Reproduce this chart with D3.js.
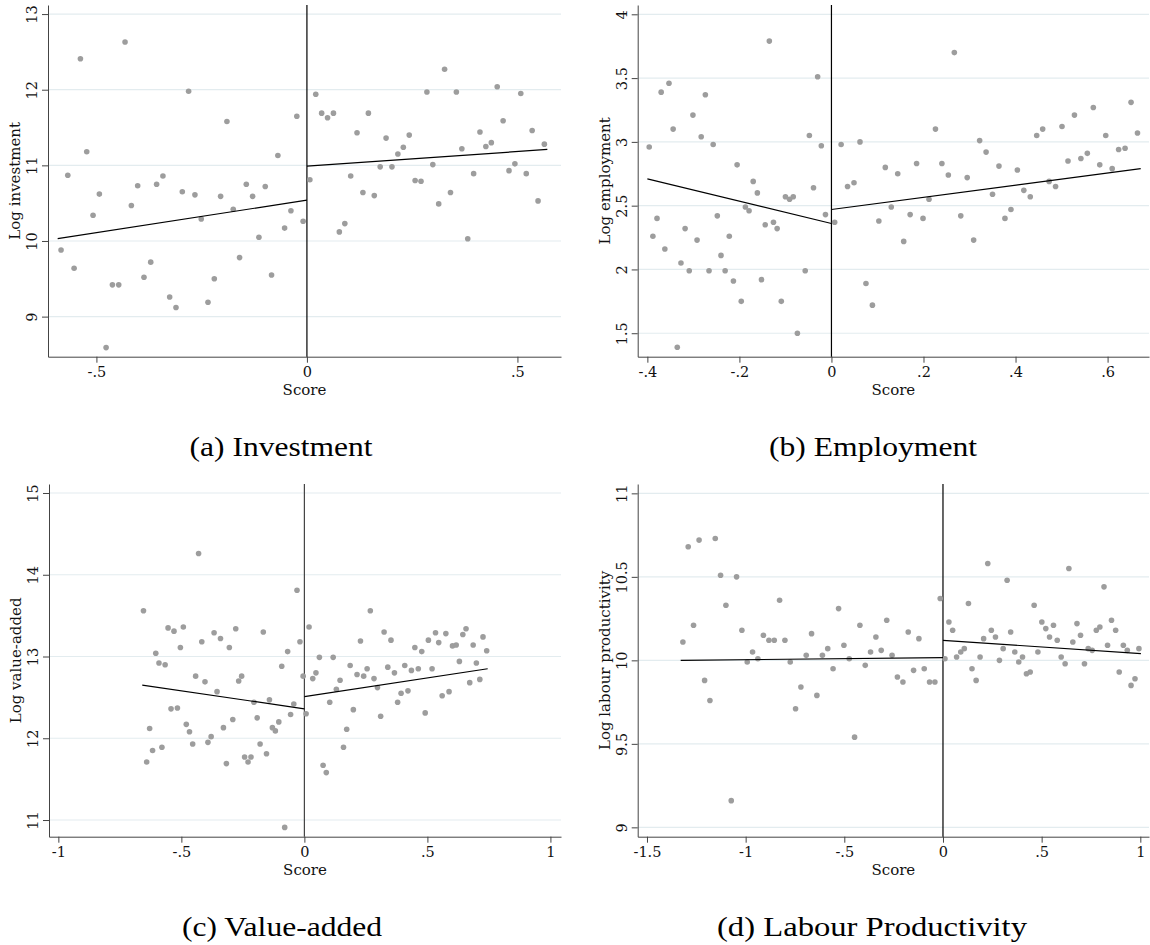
<!DOCTYPE html>
<html><head><meta charset="utf-8">
<script src="https://cdn.jsdelivr.net/npm/d3@7"></script>
<style>body{margin:0;background:#fff}svg{display:block}</style>
</head><body>
<svg id="chart" width="1150" height="945"></svg>
<script>
// ---------- Panel (a) Investment ----------
const invXLeft = [-0.584,-0.568,-0.553,-0.538,-0.523,-0.508,-0.493,-0.477,-0.462,-0.447,-0.432,-0.417,-0.402,-0.387,-0.371,-0.357,-0.342,-0.326,-0.311,-0.296,-0.281,-0.266,-0.251,-0.235,-0.220,-0.205,-0.190,-0.175,-0.160,-0.144,-0.129,-0.114,-0.099,-0.084,-0.069,-0.053,-0.038,-0.024,-0.009];
const invYLeft = [9.88,10.87,9.64,12.41,11.18,10.34,10.62,8.59,9.42,9.42,12.63,10.47,10.73,9.52,9.72,10.75,10.86,9.26,9.12,10.65,11.98,10.61,10.29,9.19,9.50,10.59,11.58,10.42,9.78,10.75,10.59,10.05,10.72,9.55,11.13,10.17,10.40,11.65,10.26];
const invXRight = [0.007,0.021,0.035,0.049,0.063,0.077,0.090,0.104,0.119,0.133,0.146,0.160,0.174,0.188,0.202,0.216,0.229,0.243,0.257,0.271,0.285,0.299,0.313,0.327,0.341,0.355,0.368,0.382,0.396,0.411,0.425,0.438,0.452,0.466,0.480,0.494,0.508,0.521,0.535,0.549,0.564];
const invYRight = [10.81,11.94,11.69,11.63,11.69,10.12,10.23,10.86,11.43,10.64,11.69,10.60,10.98,11.36,10.98,11.15,11.24,11.40,10.80,10.79,11.97,11.01,10.49,12.27,10.64,11.97,11.22,10.03,10.89,11.44,11.25,11.30,12.04,11.59,10.93,11.02,11.95,10.89,11.46,10.53,11.28];
const invFitLeft = [[-0.592,10.03],[0,10.54]];
const invFitRight = [[0,10.99],[0.571,11.21]];
const invXTicks = [-0.5,0,0.5];
const invYTicks = [9,10,11,12,13];
const invXDomain = [-0.615,0.6035];
const invYDomain = [8.47,13.12];

// ---------- Panel (b) Employment ----------
const empXLeft = [-0.396,-0.388,-0.379,-0.370,-0.362,-0.353,-0.344,-0.335,-0.327,-0.318,-0.309,-0.301,-0.292,-0.283,-0.274,-0.266,-0.257,-0.248,-0.240,-0.231,-0.222,-0.213,-0.205,-0.196,-0.187,-0.179,-0.170,-0.161,-0.152,-0.144,-0.135,-0.126,-0.118,-0.109,-0.100,-0.091,-0.083,-0.074,-0.057,-0.048,-0.039,-0.030,-0.022,-0.013];
const empYLeft = [2.96,2.26,2.40,3.39,2.16,3.46,3.10,1.39,2.05,2.32,1.99,3.21,2.23,3.04,3.37,1.99,2.98,2.42,2.11,1.99,2.26,1.91,2.82,1.75,2.49,2.46,2.69,2.60,1.92,2.35,3.79,2.37,2.32,1.75,2.57,2.55,2.57,1.50,1.99,3.05,2.64,3.51,2.97,2.43];
const empXRight = [0.007,0.021,0.035,0.049,0.062,0.075,0.089,0.103,0.117,0.130,0.144,0.157,0.171,0.185,0.199,0.212,0.226,0.240,0.254,0.267,0.281,0.295,0.309,0.322,0.336,0.350,0.364,0.377,0.390,0.404,0.418,0.432,0.446,0.459,0.473,0.487,0.501,0.514,0.528,0.542,0.556,0.569,0.583,0.596,0.610,0.624,0.638,0.651,0.665];
const empYRight = [2.37,2.98,2.65,2.68,3.00,1.89,1.72,2.38,2.80,2.49,2.75,2.22,2.43,2.83,2.40,2.55,3.10,2.83,2.74,3.70,2.42,2.72,2.23,3.01,2.92,2.59,2.81,2.40,2.47,2.78,2.62,2.57,3.05,3.10,2.69,2.65,3.12,2.85,3.21,2.87,2.91,3.27,2.82,3.05,2.79,2.94,2.95,3.31,3.07];
const empFitLeft = [[-0.4,2.71],[0,2.36]];
const empFitRight = [[0,2.47],[0.672,2.79]];
const empXTicks = [-0.4,-0.2,0,0.2,0.4,0.6];
const empYTicks = [1.5,2,2.5,3,3.5,4];
const empXDomain = [-0.421,0.69];
const empYDomain = [1.316,4.073];

// ---------- Panel (c) Value-added ----------
const vaXLeft = [-0.654,-0.641,-0.629,-0.617,-0.604,-0.591,-0.579,-0.566,-0.554,-0.542,-0.530,-0.516,-0.504,-0.492,-0.480,-0.467,-0.454,-0.442,-0.430,-0.417,-0.404,-0.392,-0.379,-0.367,-0.355,-0.341,-0.329,-0.317,-0.305,-0.291,-0.279,-0.267,-0.255,-0.243,-0.229,-0.217,-0.205,-0.192,-0.180,-0.167,-0.154,-0.142,-0.130,-0.118,-0.104,-0.092,-0.080,-0.068,-0.056,-0.043,-0.030,-0.018,-0.005];
const vaYLeft = [13.56,11.71,12.12,11.85,13.04,12.92,11.89,12.90,13.35,12.36,13.31,12.37,13.11,13.36,12.17,12.08,11.93,12.76,14.26,13.18,12.69,11.95,12.02,13.29,12.57,13.22,12.13,11.69,13.11,12.23,13.34,12.70,12.76,11.77,11.71,11.77,12.44,12.25,11.93,13.30,11.81,12.47,12.13,12.09,12.20,12.88,10.91,13.06,12.29,12.42,13.81,13.18,12.76];
const vaXRight = [0.007,0.019,0.034,0.047,0.061,0.076,0.089,0.103,0.117,0.130,0.145,0.159,0.172,0.186,0.199,0.214,0.228,0.241,0.255,0.268,0.283,0.297,0.310,0.324,0.339,0.352,0.366,0.379,0.393,0.408,0.421,0.435,0.449,0.463,0.477,0.491,0.504,0.519,0.533,0.546,0.560,0.575,0.588,0.602,0.617,0.630,0.644,0.657,0.672,0.686,0.699,0.713,0.726,0.741];
const vaYRight = [12.30,13.36,12.73,12.80,12.99,11.67,11.58,12.44,12.99,12.60,12.71,11.89,12.11,12.89,12.35,12.78,13.19,12.76,12.85,13.56,12.73,12.62,12.27,13.30,12.87,13.20,12.80,12.44,12.55,12.89,12.58,12.83,13.11,12.85,13.06,12.31,13.20,12.85,13.29,13.17,12.52,13.28,12.57,13.13,13.14,12.94,13.27,13.34,12.68,13.14,12.92,12.72,13.24,13.07];
const vaFitLeft = [[-0.659,12.65],[0,12.36]];
const vaFitRight = [[0,12.51],[0.745,12.85]];
const vaXTicks = [-1,-0.5,0,0.5,1];
const vaYTicks = [11,12,13,14,15];
const vaXDomain = [-1.038,1.043];
const vaYDomain = [10.796,15.11];

// ---------- Panel (d) Labour Productivity ----------
const lpXLeft = [-1.318,-1.291,-1.264,-1.236,-1.208,-1.181,-1.154,-1.127,-1.100,-1.073,-1.046,-1.019,-0.992,-0.965,-0.938,-0.910,-0.882,-0.855,-0.828,-0.801,-0.774,-0.747,-0.720,-0.693,-0.666,-0.639,-0.611,-0.584,-0.557,-0.529,-0.502,-0.475,-0.448,-0.421,-0.394,-0.367,-0.340,-0.313,-0.285,-0.258,-0.231,-0.203,-0.176,-0.149,-0.122,-0.095,-0.068,-0.041,-0.014];
const lpYLeft = [10.11,10.68,10.21,10.72,9.88,9.76,10.73,10.51,10.33,9.16,10.50,10.18,9.99,10.05,10.01,10.15,10.12,10.12,10.36,10.12,9.99,9.71,9.84,10.03,10.16,9.79,10.03,10.07,9.95,10.31,10.09,10.01,9.54,10.21,9.97,10.05,10.14,10.06,10.24,10.03,9.90,9.87,10.17,9.94,10.13,9.95,9.87,9.87,10.37];
const lpXRight = [0.010,0.030,0.049,0.069,0.090,0.108,0.129,0.147,0.168,0.188,0.206,0.227,0.245,0.266,0.286,0.305,0.325,0.343,0.364,0.384,0.403,0.423,0.442,0.462,0.481,0.501,0.521,0.540,0.560,0.579,0.599,0.619,0.638,0.658,0.679,0.697,0.717,0.736,0.756,0.777,0.795,0.816,0.834,0.854,0.875,0.893,0.914,0.934,0.953,0.973,0.993];
const lpYRight = [10.01,10.23,10.18,10.02,10.05,10.07,10.34,9.95,9.88,10.02,10.13,10.58,10.18,10.14,10.00,10.07,10.48,10.17,10.05,9.99,10.02,9.92,9.93,10.33,10.05,10.23,10.19,10.14,10.21,10.12,10.02,9.98,10.55,10.11,10.22,10.15,9.98,10.07,10.06,10.18,10.20,10.44,10.09,10.24,10.18,9.93,10.09,10.06,9.85,9.89,10.07];
const lpFitLeft = [[-1.329,10.00],[0,10.016]];
const lpFitRight = [[0,10.12],[1.003,10.04]];
const lpXTicks = [-1.5,-1,-0.5,0,0.5,1];
const lpYTicks = [9,9.5,10,10.5,11];
const lpXDomain = [-1.547,1.044];
const lpYDomain = [8.944,11.056];

// ---------- Texts ----------
const yTitles = ["Log investment","Log employment","Log value-added","Log labour productivity"];
const xTitle = "Score";
const captions = ["(a) Investment","(b) Employment","(c) Value-added","(d) Labour Productivity"];

const panels = [
  {xl:invXLeft,yl:invYLeft,xr:invXRight,yr:invYRight,fl:invFitLeft,fr:invFitRight,xt:invXTicks,yt:invYTicks,xd:invXDomain,yd:invYDomain},
  {xl:empXLeft,yl:empYLeft,xr:empXRight,yr:empYRight,fl:empFitLeft,fr:empFitRight,xt:empXTicks,yt:empYTicks,xd:empXDomain,yd:empYDomain},
  {xl:vaXLeft,yl:vaYLeft,xr:vaXRight,yr:vaYRight,fl:vaFitLeft,fr:vaFitRight,xt:vaXTicks,yt:vaYTicks,xd:vaXDomain,yd:vaYDomain},
  {xl:lpXLeft,yl:lpYLeft,xr:lpXRight,yr:lpYRight,fl:lpFitLeft,fr:lpFitRight,xt:lpXTicks,yt:lpYTicks,xd:lpXDomain,yd:lpYDomain}
];

// layout (pixels)
const layouts = [
  {left:48,   right:561,  top:5,   bottom:356.7, capX:281, capY:456, capW:183, zero:"#000"},
  {left:637.7,right:1149, top:5,   bottom:356.7, capX:873, capY:456, capW:208, zero:"#000"},
  {left:49,   right:561,  top:484, bottom:836.7, capX:282, capY:936, capW:200, zero:"#444"},
  {left:637.7,right:1149, top:484, bottom:836.7, capX:872, capY:936, capW:310, zero:"#000"}
];

const svg = d3.select("#chart");
const tickFont = "DejaVu Serif, serif";
const fmt = v => String(+v.toFixed(2)).replace(/^(-?)0\./, "$1.");

panels.forEach((p, i) => {
  const L = layouts[i];
  const x = d3.scaleLinear().domain(p.xd).range([L.left, L.right]);
  const y = d3.scaleLinear().domain(p.yd).range([L.bottom, L.top]);
  const g = svg.append("g");

  // gridlines
  g.append("g").selectAll("line").data(p.yt).join("line")
    .attr("x1", L.left).attr("x2", L.right)
    .attr("y1", d => y(d)).attr("y2", d => y(d))
    .attr("stroke", "#e3ecef").attr("stroke-width", 1.2);

  // x axis
  const gx = g.append("g").attr("transform", `translate(0,${L.bottom})`)
    .call(d3.axisBottom(x).tickValues(p.xt).tickFormat(fmt).tickSize(6).tickSizeOuter(0).tickPadding(4));
  gx.select(".domain").attr("stroke", "#444");
  gx.selectAll(".tick line").attr("stroke", "#444");
  gx.selectAll("text").attr("font-family", tickFont).attr("font-size", 14.5).attr("fill", "#111");

  // y axis
  const gy = g.append("g").attr("transform", `translate(${L.left},0)`)
    .call(d3.axisLeft(y).tickValues(p.yt).tickFormat(fmt).tickSize(6).tickSizeOuter(0));
  gy.select(".domain").attr("stroke", "#444");
  gy.selectAll(".tick line").attr("stroke", "#444");
  gy.selectAll("text")
    .attr("x", null).attr("dy", null)
    .attr("text-anchor", "middle")
    .attr("transform", "translate(-10.7,0) rotate(-90)")
    .attr("font-family", tickFont).attr("font-size", 14.5).attr("fill", "#111");

  // vertical line at zero
  g.append("line")
    .attr("x1", x(0)).attr("x2", x(0)).attr("y1", L.top).attr("y2", L.bottom)
    .attr("stroke", L.zero).attr("stroke-width", 1.2);

  // points
  const pts = p.xl.map((v, k) => [v, p.yl[k]]).concat(p.xr.map((v, k) => [v, p.yr[k]]));
  g.append("g").selectAll("circle").data(pts).join("circle")
    .attr("cx", d => x(d[0])).attr("cy", d => y(d[1])).attr("r", 2.8)
    .attr("fill", "#9d9d9d");

  // fit lines
  const line = d3.line().x(d => x(d[0])).y(d => y(d[1]));
  [p.fl, p.fr].forEach(f => {
    g.append("path").attr("d", line(f)).attr("fill", "none")
      .attr("stroke", "#000").attr("stroke-width", 1.2);
  });

  // axis titles
  g.append("text")
    .attr("x", (L.left + L.right) / 2).attr("y", L.bottom + 38.5)
    .attr("text-anchor", "middle").attr("font-family", tickFont).attr("font-size", 15)
    .attr("fill", "#111").text(xTitle);
  g.append("text")
    .attr("transform", `translate(${L.left - 28},${(L.top + L.bottom) / 2}) rotate(-90)`)
    .attr("text-anchor", "middle").attr("font-family", tickFont).attr("font-size", 15)
    .attr("fill", "#111").text(yTitles[i]);

  // caption
  svg.append("text")
    .attr("x", L.capX).attr("y", L.capY)
    .attr("text-anchor", "middle")
    .attr("font-family", "Liberation Serif, serif").attr("font-size", 28)
    .attr("textLength", L.capW).attr("lengthAdjust", "spacingAndGlyphs")
    .attr("fill", "#000").text(captions[i]);
});
</script>
</body></html>
